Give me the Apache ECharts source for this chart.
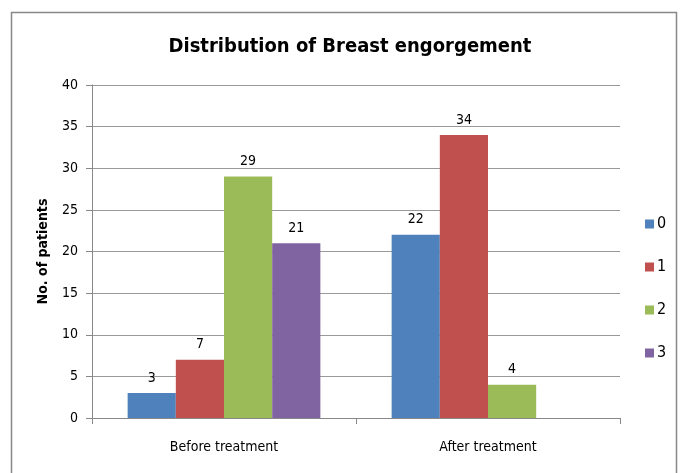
<!DOCTYPE html>
<html><head><meta charset="utf-8">
<script src="https://cdn.jsdelivr.net/npm/echarts@6/dist/echarts.min.js"></script>
<style>html,body{margin:0;padding:0;background:#fff}#c{width:680px;height:473px}</style>
</head><body><div id="c"></div>
<script>
const categories = ['Before treatment', 'After treatment'];
const seriesNames = ['0', '1', '2', '3'];
const grade0 = [3, 22];
const grade1 = [7, 34];
const grade2 = [29, 4];
const grade3 = [21, '-'];
const yTicks = [0, 5, 10, 15, 20, 25, 30, 35, 40];
const colors = ['#4F81BD', '#C0504D', '#9BBB59', '#8064A2'];
const FONT = "'Liberation Sans Narrow', 'DejaVu Sans Condensed', 'Open Sans', sans-serif";

const chart = echarts.init(document.getElementById('c'));
const allData = [grade0, grade1, grade2, grade3];
chart.setOption({
  animation: false,
  textStyle: { fontFamily: FONT },
  title: {
    text: 'Distribution of Breast engorgement',
    left: 345, top: 32, textAlign: 'center',
    textStyle: { fontFamily: FONT, fontSize: 20, fontWeight: 'bold', color: '#000' }
  },
  graphic: [{
    type: 'rect', shape: { x: 11.5, y: 12.5, width: 665, height: 480 },
    style: { fill: 'none', stroke: '#888', lineWidth: 1.5 }, silent: true
  }],
  legend: {
    orient: 'vertical', left: 640, top: 211, itemGap: 27,
    itemWidth: 9, itemHeight: 9, icon: 'rect',
    textStyle: { fontFamily: FONT, fontSize: 16, color: '#000', padding: [0, 0, 0, -2] },
    data: seriesNames
  },
  grid: { left: 92, right: 60, top: 85, bottom: 55, containLabel: false },
  xAxis: {
    type: 'category', data: categories,
    axisLine: { lineStyle: { color: '#888' } },
    axisTick: { show: true, length: 6, lineStyle: { color: '#888' } },
    axisLabel: { color: '#000', fontSize: 14, margin: 22, fontFamily: FONT }
  },
  yAxis: {
    type: 'value', min: yTicks[0], max: yTicks[yTicks.length - 1], interval: 5,
    name: 'No. of patients', nameLocation: 'middle', nameGap: 42,
    nameTextStyle: { fontSize: 14, fontWeight: 'bold', color: '#000', fontFamily: FONT },
    axisLine: { show: true, lineStyle: { color: '#888' } },
    axisTick: { show: true, length: 6, lineStyle: { color: '#888' } },
    splitLine: { lineStyle: { color: '#999' } },
    axisLabel: { color: '#000', fontSize: 14, margin: 14, fontFamily: FONT }
  },
  series: seriesNames.map((n, i) => ({
    name: n, type: 'bar', data: allData[i],
    barGap: '0%', barCategoryGap: '27%',
    itemStyle: { color: colors[i] },
    label: { show: true, position: 'top', distance: 8, color: '#000', fontSize: 14, fontFamily: FONT }
  }))
});
</script></body></html>
